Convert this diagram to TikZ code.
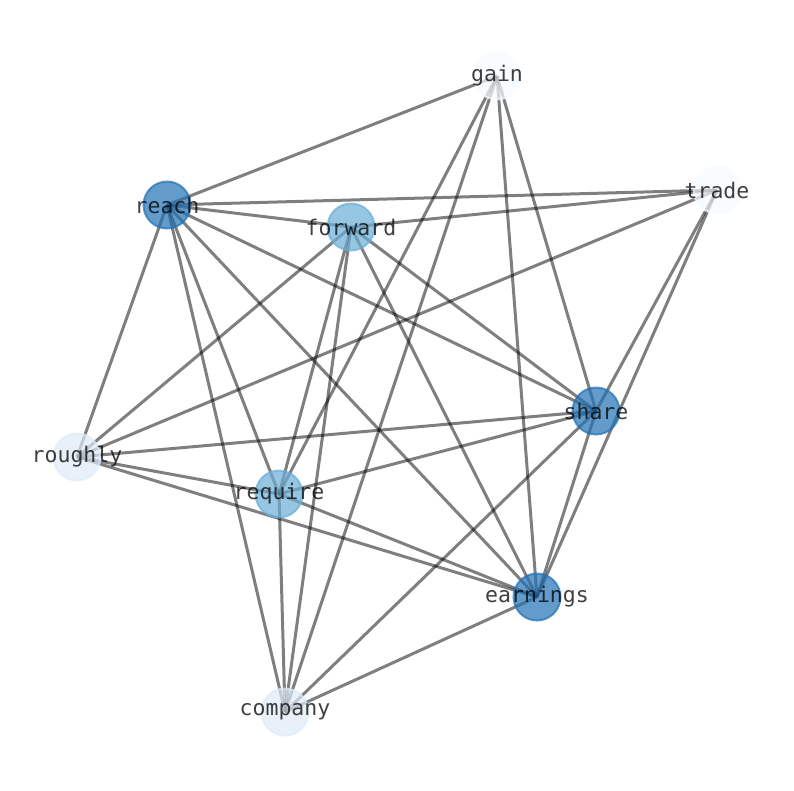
\documentclass[tikz,border=0pt]{standalone}
\usepackage{fontspec}
\newfontfamily\monofont{DejaVu Sans Mono}
\usepackage{tikz}

\definecolor{darkblue}{HTML}{2171B5}
\definecolor{midblue}{HTML}{6BAED6}
\definecolor{paleblue}{HTML}{DEEBF7}
\definecolor{whiteblue}{HTML}{F7FBFF}

\tikzset{
	word/.style={circle, minimum size=47pt, inner sep=0pt, line width=2pt,
		fill opacity=0.7, draw opacity=0.7},
	strong/.style={word, fill=darkblue, draw=darkblue},
	medium/.style={word, fill=midblue, draw=midblue},
	weak/.style={word, fill=paleblue, draw=paleblue},
	faint/.style={word, fill=whiteblue, draw=whiteblue},
	tag/.style={inner sep=0pt, text=black, text opacity=0.75,
		font=\monofont\fontsize{21.5}{21.5}\selectfont},
	link/.style={black, opacity=0.5, line width=3pt}
}

\begin{document}
\begin{tikzpicture}[x=1pt, y=-1pt]
	\useasboundingbox (0,0) rectangle (794,790);
	\coordinate (gain) at (497,76);
	\coordinate (trade) at (717,190);
	\coordinate (reach) at (167,205);
	\coordinate (forward) at (351,227);
	\coordinate (share) at (596,411);
	\coordinate (roughly) at (77,457);
	\coordinate (require) at (279,494);
	\coordinate (earnings) at (537,597);
	\coordinate (company) at (285,712);

	\foreach \a/\b in {reach/gain, reach/trade, reach/forward, reach/share,
		reach/earnings, reach/require, reach/company, reach/roughly,
		gain/require, gain/company, gain/earnings, gain/share,
		trade/forward, trade/roughly, trade/share, trade/earnings,
		forward/roughly, forward/require, forward/company, forward/earnings, forward/share,
		share/roughly, share/require, share/earnings, share/company,
		roughly/require, roughly/earnings,
		require/company, require/earnings,
		earnings/company}
		\draw[link] (\a) -- (\b);

	\foreach \w/\s in {gain/faint, trade/faint, reach/strong, forward/medium,
		share/strong, roughly/weak, require/medium, earnings/strong, company/weak}
	{
		\node[\s] (\w-disc) at (\w) {};
		\node[tag] (\w-text) at (\w) {\w};
	}
\end{tikzpicture}
\end{document}
